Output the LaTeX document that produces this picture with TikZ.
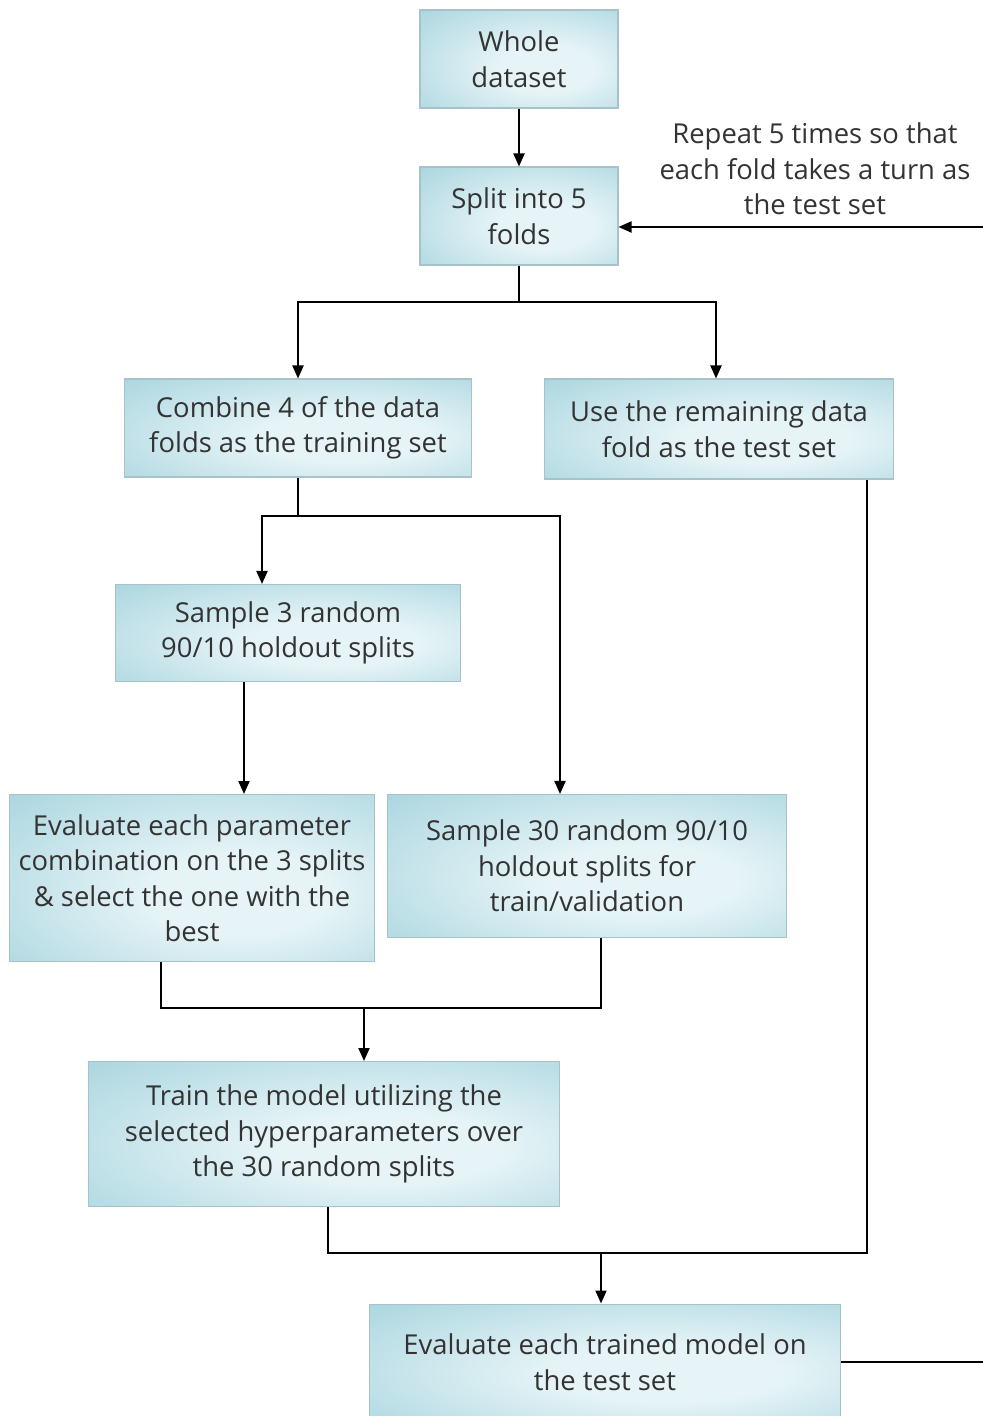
\documentclass[tikz,border=0pt]{standalone}
\usepackage{fontspec}
\setmainfont{Open Sans}
\usetikzlibrary{arrows.meta}
\definecolor{boxdark}{HTML}{93CAD6}
\definecolor{boxlight}{HTML}{E6F4F7}
\definecolor{boxline}{HTML}{A7C2C9}
\definecolor{inktext}{HTML}{333333}
\pgfdeclareradialshading{boxshade}{\pgfpoint{8bp}{-6bp}}{color(0bp)=(boxlight); color(12bp)=(boxlight); color(52bp)=(boxdark); color(80bp)=(boxdark)}
\begin{document}
\begin{tikzpicture}[x=0.02cm, y=-0.02cm,
        box/.style={draw=boxline, line width=0.6pt, shading=boxshade,
            text=inktext, align=center, inner sep=0pt,
            font=\fontsize{15.6}{20.2}\selectfont},
        arr/.style={-{Triangle[length=0.26cm,width=0.22cm]}, line width=1.1pt},
        link/.style={line width=1.1pt}]
    \useasboundingbox (0,0) rectangle (983,1416);
    % Boxes, placed at their centres
    \node[box, minimum width=3.96cm, minimum height=1.96cm] (whole) at (519,59) {Whole\\dataset};
    \node[box, minimum width=3.96cm, minimum height=1.96cm] (split) at (519,216) {Split into 5\\folds};
    \node[box, minimum width=6.96cm, minimum height=1.96cm] (comb) at (298,428) {Combine 4 of the data\\folds as the training set};
    \node[box, minimum width=6.98cm, minimum height=2cm] (rest) at (719,429) {Use the remaining data\\fold as the test set};
    \node[box, minimum width=6.92cm, minimum height=1.94cm] (samp3) at (288,633) {Sample 3 random\\90/10 holdout splits};
    \node[box, minimum width=7.3cm, minimum height=3.34cm] (evalp) at (192,878) {Evaluate each parameter\\combination on the 3 splits\\\& select the one with the\\best};
    \node[box, minimum width=7.98cm, minimum height=2.86cm] (samp30) at (587,866) {Sample 30 random 90/10\\holdout splits for\\train/validation};
    \node[box, minimum width=9.42cm, minimum height=2.9cm] (train) at (324,1134) {Train the model utilizing the\\selected hyperparameters over\\the 30 random splits};
    \node[box, minimum width=9.42cm, minimum height=2.32cm] (evalt) at (605,1362) {Evaluate each trained model on\\the test set};
    % Loop label
    \node[align=center, text=inktext, font=\fontsize{15.6}{20.2}\selectfont] (note) at (815,169)
        {Repeat 5 times so that\\each fold takes a turn as\\the test set};
    % Joints of the connectors
    \coordinate (fork1) at (519,302);
    \coordinate (fork2) at (298,516);
    \coordinate (join1) at (364,1008);
    \coordinate (join2) at (601,1253);
    \coordinate (loop) at (986,1362);
    % Connectors
    \draw[arr] (whole) -- (split);
    \draw[link] (split.south) -- (fork1);
    \draw[arr] (fork1) -| (comb.north);
    \draw[arr] (fork1) -| ([xshift=-0.06cm]rest.north);
    \draw[link] (comb.south) -- (fork2);
    \draw[arr] (fork2) -| ([xshift=-0.52cm]samp3.north);
    \draw[arr] (fork2) -| ([xshift=-0.54cm]samp30.north);
    \draw[arr] ([xshift=-0.88cm]samp3.south) -- ([xshift=1.04cm]evalp.north);
    \draw[link] ([xshift=-0.62cm]evalp.south) |- (join1) -| ([xshift=0.28cm]samp30.south);
    \draw[arr] (join1) -- (join1 |- train.north);
    \draw[link] ([xshift=0.08cm]train.south) |- (join2) -| ([xshift=2.96cm]rest.south);
    \draw[arr] (join2) -- (join2 |- evalt.north);
    \draw[arr] (evalt.east) -- (loop) |- ([yshift=-0.22cm]split.east);
\end{tikzpicture}
\end{document}
